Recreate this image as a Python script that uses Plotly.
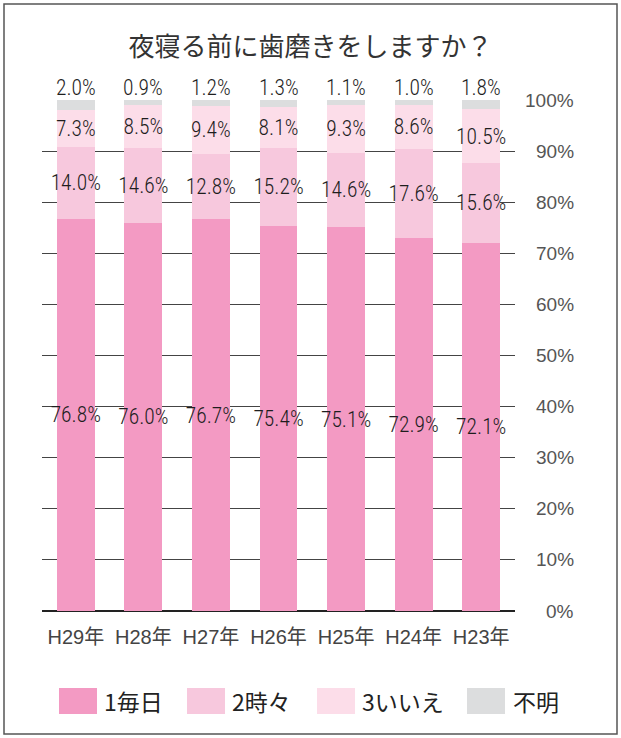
import plotly.graph_objects as go

categories = ["H29年", "H28年", "H27年", "H26年", "H25年", "H24年", "H23年"]
series_names = ["1毎日", "2時々", "3いいえ", "不明"]
everyday = [76.8, 76.0, 76.7, 75.4, 75.1, 72.9, 72.1]
sometimes = [14.0, 14.6, 12.8, 15.2, 14.6, 17.6, 15.6]
no = [7.3, 8.5, 9.4, 8.1, 9.3, 8.6, 10.5]
unknown = [2.0, 0.9, 1.2, 1.3, 1.1, 1.0, 1.8]
y_ticks = [0, 10, 20, 30, 40, 50, 60, 70, 80, 90, 100]
y_tick_labels = [f"{v}%" for v in y_ticks]
colors = ["#F39AC3", "#F7C8DD", "#FCDDE9", "#DCDDDE"]
title_text = "夜寝る前に歯磨きをしますか？"

W, H = 621, 738
L, R, T, B = 42, 515, 100, 611

def px(x):
    return (x - L) / (R - L)

def py(y):
    return (B - y) / (B - T)

NUM_FONT = "Roboto Condensed, Noto Sans CJK JP"
JP_FONT = "Noto Sans CJK JP, Noto Sans, sans-serif"
LABEL_FONT = dict(family=NUM_FONT, size=21.5, color="#1e1e1e", weight=350)

fig = go.Figure()
values = [everyday, sometimes, no, unknown]
for i, (name, vals) in enumerate(zip(series_names, values)):
    texts = [f"{v:.1f}%" for v in vals] if i < 3 else None
    fig.add_trace(go.Bar(
        x=categories, y=vals, name=name,
        marker=dict(color=colors[i], line=dict(width=0)),
        text=texts,
        textposition="inside" if i < 3 else "none",
        insidetextanchor="middle",
        textangle=0,
        textfont=LABEL_FONT,
        constraintext="none",
        cliponaxis=False,
        hoverinfo="skip",
        showlegend=False,
    ))

# top labels for 不明 (above the 100% line)
for c, v in zip(categories, unknown):
    fig.add_annotation(x=c, y=py(87), xref="x", yref="paper", text=f"{v:.1f}%",
                       yanchor="middle", showarrow=False, font=LABEL_FONT)

# right-aligned y tick labels
for v, lab in zip(y_ticks, y_tick_labels):
    fig.add_annotation(x=px(576), y=v, xref="paper", yref="y", text=lab,
                       xanchor="right", yanchor="middle", showarrow=False,
                       font=dict(family="Liberation Sans, Arial, sans-serif", size=19, color="#555"))

# legend drawn as swatches + text
leg_items = [(59, 97, 102), (187, 225, 230), (317, 355, 360), (467, 505, 511)]
for (x0, x1, tx), name, col in zip(leg_items, series_names, colors):
    fig.add_shape(type="rect", xref="paper", yref="paper",
                  x0=px(x0), x1=px(x1), y0=py(714), y1=py(688),
                  fillcolor=col, line=dict(width=0))
    fig.add_annotation(x=px(tx), y=py(701), xref="paper", yref="paper", text=name,
                       xanchor="left", yanchor="middle", showarrow=False,
                       font=dict(family=JP_FONT, size=23, color="#222"))

# outer frame
fig.add_shape(type="rect", xref="paper", yref="paper",
              x0=px(4), x1=px(617), y0=py(734), y1=py(4),
              line=dict(color="#555", width=1.5), fillcolor="rgba(0,0,0,0)")

fig.update_layout(
    width=W, height=H,
    margin=dict(l=L, r=W - R, t=T, b=H - B),
    barmode="stack", bargap=0.44,
    plot_bgcolor="white", paper_bgcolor="white",
    showlegend=False, hovermode=False,
    font=dict(family=JP_FONT),
    title=dict(text=title_text, x=0.5, xanchor="center", y=1 - 47 / H, yanchor="middle",
               font=dict(family=JP_FONT, size=26, color="#333")),
    xaxis=dict(showgrid=False, showline=False, ticks="", zeroline=False,
               tickfont=dict(family="Liberation Sans, Noto Sans CJK JP", size=20, color="#444"),
               ticklabelstandoff=12),
    yaxis=dict(range=[0, 100], tickvals=y_ticks, showticklabels=False,
               showgrid=True, gridcolor="#444", gridwidth=1,
               zeroline=True, zerolinecolor="#222", zerolinewidth=1.5,
               showline=False, ticks="", layer="below traces"),
)
fig.write_html("out.html", post_script="document.body.style.margin='0';",
               config={"displayModeBar": False})
